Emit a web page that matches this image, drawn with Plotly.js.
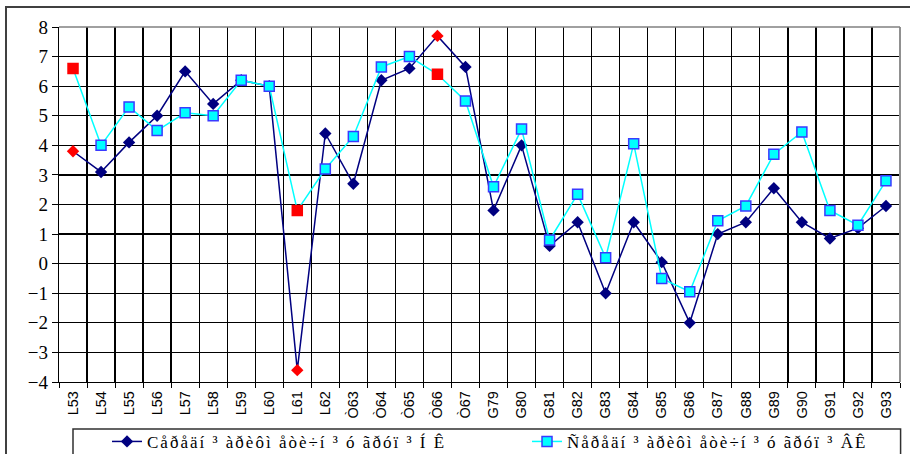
<!DOCTYPE html>
<html>
<head>
<meta charset="utf-8">
<script src="https://cdn.plot.ly/plotly-3.0.1.min.js"></script>
<style>
html,body{margin:0;padding:0;background:#fff;overflow:hidden;}
#chart{width:910px;height:454px;position:absolute;left:0;top:0;}
#frame{position:absolute;left:5px;top:6px;width:920px;height:470px;border:2px solid #404040;pointer-events:none;}
text.legendtext, text.legend2text{letter-spacing:2px !important;}
</style>
</head>
<body>
<div id="chart"></div>
<div id="frame"></div>
<script>
var categories = ['L53','L54','L55','L56','L57','L58','L59','L60','L61','L62',
  'Ò63','Ò64','Ò65','Ò66','Ò67',
  'G79','G80','G81','G82','G83','G84','G85','G86','G87','G88','G89','G90','G91','G92','G93'];
var seriesNK = [3.8,3.1,4.1,5.0,6.5,5.4,6.2,6.0,-3.6,4.4,
  2.7,6.2,6.6,7.7,6.65,
  1.8,4.0,0.6,1.4,-1.0,1.4,0.05,-2.0,1.0,1.4,2.55,1.4,0.85,1.2,1.95];
var seriesVK = [6.6,4.0,5.3,4.5,5.1,5.0,6.2,6.0,1.8,3.2,
  4.3,6.65,7.0,6.4,5.5,
  2.6,4.55,0.8,2.35,0.2,4.05,-0.5,-0.95,1.45,1.95,3.7,4.45,1.8,1.3,2.8];
var highlighted = ['L53','L61','Ò66'];
var nameNK = 'Cåðåäí ³ àðèôì åòè÷í ³ ó ãðóï ³ Í Ê';
var nameVK = 'Ñåðåäí ³ àðèôì åòè÷í ³ ó ãðóï ³ ÂÊ';

var navy = '#000080', cyan = '#00FFFF', red = '#FF0000', blue = '#3a3aff';
var colNK = categories.map(function(c){return highlighted.indexOf(c)>=0 ? red : navy;});
var colVK = categories.map(function(c){return highlighted.indexOf(c)>=0 ? red : cyan;});
var lineVK = categories.map(function(c){return highlighted.indexOf(c)>=0 ? red : blue;});

var traces = [
 {x:categories, y:seriesNK, name:nameNK, type:'scatter', mode:'lines+markers', showlegend:false,
  line:{color:navy,width:1.5},
  marker:{symbol:'diamond',size:9.5,color:colNK,line:{width:0}}},
 {x:categories, y:seriesVK, name:nameVK, type:'scatter', mode:'lines+markers', showlegend:false,
  line:{color:cyan,width:1.5},
  marker:{symbol:'square',size:10,color:colVK,line:{width:1.5,color:lineVK}}},
 // legend-only entries (uniform symbol colours)
 {x:[null], y:[null], name:nameNK, type:'scatter', mode:'lines+markers', legend:'legend',
  line:{color:navy,width:1.5}, marker:{symbol:'diamond',size:9.5,color:navy,line:{width:0}}},
 {x:[null], y:[null], name:nameVK, type:'scatter', mode:'lines+markers', legend:'legend2',
  line:{color:cyan,width:1.5}, marker:{symbol:'square',size:10,color:cyan,line:{width:1.5,color:blue}}}
];

var serif = '"Liberation Serif", "Times New Roman", serif';
var legendFont = {family:serif, size:17, color:'#000'};
var layout = {
 width:910, height:454,
 font:{family:serif, size:19, color:'#000'},
 margin:{l:59,r:10,t:27,b:72, autoexpand:false},
 paper_bgcolor:'rgba(0,0,0,0)', plot_bgcolor:'#fff',
 showlegend:true,
 xaxis:{type:'category', range:[-0.5,29.5], tickson:'boundaries', automargin:false,
   showgrid:true, gridcolor:'#000', gridwidth:1.3,
   ticks:'outside', ticklen:5, tickcolor:'#000', ticklabelstandoff:2,
   showline:true, linecolor:'#000', linewidth:1.3,
   tickangle:-90, tickfont:{family:'"Liberation Sans", Arial, sans-serif', size:14.5, color:'#000'},
   fixedrange:true},
 yaxis:{range:[-4,8], dtick:1, tick0:0, automargin:false, showgrid:true, gridcolor:'#000', gridwidth:1.3,
   zeroline:false, ticks:'outside', ticklen:6, tickcolor:'#000',
   showline:true, linecolor:'#000', linewidth:1.3,
   tickfont:{family:serif, size:19, color:'#000'},
   fixedrange:true},
 legend:{orientation:'h', x:0.0571, xanchor:'left', y:-0.118, yanchor:'top',
   font:legendFont, bgcolor:'rgba(0,0,0,0)', borderwidth:0},
 legend2:{orientation:'h', x:0.5565, xanchor:'left', y:-0.118, yanchor:'top',
   font:legendFont, bgcolor:'rgba(0,0,0,0)', borderwidth:0},
 shapes:[
  {type:'line', xref:'paper', yref:'paper', x0:1, x1:1, y0:0, y1:1, line:{color:'#909090',width:2}},
  {type:'line', xref:'paper', yref:'paper', x0:0, x1:1, y0:1, y1:1, line:{color:'#808080',width:1.5}},
  {type:'rect', xref:'paper', yref:'paper', x0:14/841, x1:1.0007, y0:-0.1324, y1:-0.25, line:{color:'#303030',width:1.5}, fillcolor:'rgba(0,0,0,0)'}
 ]
};
Plotly.newPlot('chart', traces, layout, {displayModeBar:false, staticPlot:true});
</script>
</body>
</html>
